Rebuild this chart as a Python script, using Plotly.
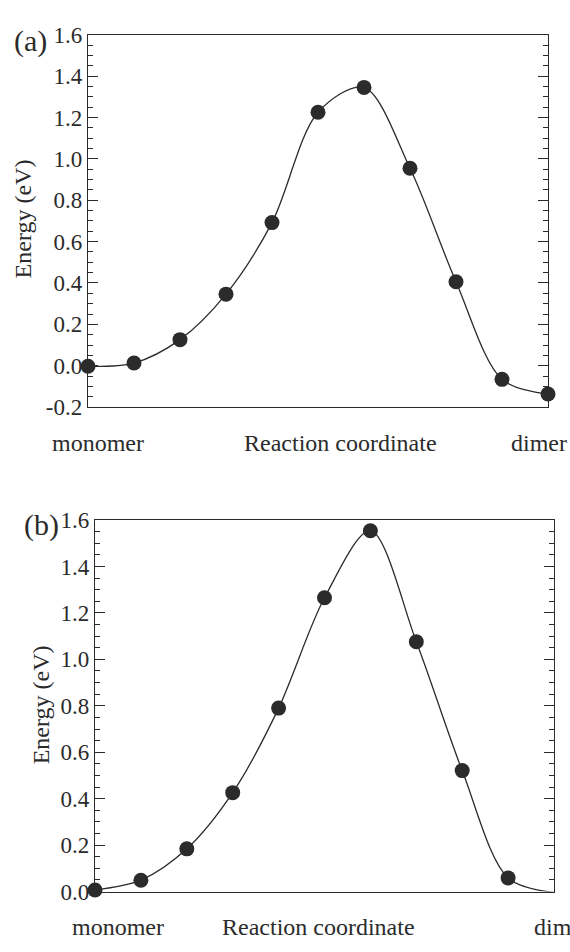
import plotly.graph_objects as go

# ---- data ----
images_a = list(range(11))
energy_a = [-0.003, 0.013, 0.126, 0.346, 0.692, 1.226, 1.346, 0.955, 0.406, -0.066, -0.137]
images_b = list(range(11))
energy_b = [0.007, 0.049, 0.184, 0.426, 0.790, 1.265, 1.554, 1.076, 0.521, 0.059, -0.003]

ticks_a = [-0.2, 0.0, 0.2, 0.4, 0.6, 0.8, 1.0, 1.2, 1.4, 1.6]
ticks_b = [0.0, 0.2, 0.4, 0.6, 0.8, 1.0, 1.2, 1.4, 1.6]
tick_text_a = ["-0.2", "0.0", "0.2", "0.4", "0.6", "0.8", "1.0", "1.2", "1.4", "1.6"]
tick_text_b = ["0.0", "0.2", "0.4", "0.6", "0.8", "1.0", "1.2", "1.4", "1.6"]

x_labels_a = ["monomer", "Reaction coordinate", "dimer"]
x_labels_b = ["monomer", "Reaction coordinate", "dim"]
y_title = "Energy (eV)"
panel_labels = ["(a)", "(b)"]

W, H = 570, 952
FONT = "Liberation Serif"
INK = "#2b2b2b"


def px(x):
    return x / W


def py(y):
    return 1 - y / H


fig = go.Figure()

for xs, ys, ax in [(images_a, energy_a, ""), (images_b, energy_b, "2")]:
    fig.add_trace(go.Scatter(
        x=xs, y=ys, xaxis="x" + ax, yaxis="y" + ax,
        mode="lines", line=dict(color=INK, width=1.3, shape="spline", smoothing=0.9),
        hoverinfo="skip", showlegend=False))
    fig.add_trace(go.Scatter(
        x=xs, y=ys, xaxis="x" + ax, yaxis="y" + ax,
        mode="markers", marker=dict(color=INK, size=15),
        cliponaxis=False, showlegend=False))

common_x = dict(range=[0, 10], showline=True, linecolor=INK, linewidth=1.3,
                mirror=True, ticks="", showticklabels=False, showgrid=False,
                zeroline=False)


def yax(rng, tv, tt, dom, anchor):
    return dict(range=rng, domain=dom, anchor=anchor, tickvals=tv, ticktext=tt,
                ticks="inside", ticklen=10, tickwidth=1.2, tickcolor=INK,
                minor=dict(dtick=0.05, tick0=0, ticklen=5, tickwidth=1.2,
                           ticks="inside", tickcolor=INK, showgrid=False),
                showline=True, linecolor=INK, linewidth=1.3, mirror="ticks",
                showgrid=False, zeroline=False,
                tickfont=dict(family=FONT, size=23, color=INK))


fig.update_layout(
    width=W, height=H, margin=dict(l=0, r=0, t=0, b=0),
    paper_bgcolor="white", plot_bgcolor="white",
    font=dict(family=FONT, color=INK),
    xaxis=dict(domain=[px(88), px(548)], anchor="y", **common_x),
    yaxis=yax([-0.2, 1.6], ticks_a, tick_text_a, [py(405.7), py(23.5)], "x"),
    xaxis2=dict(domain=[px(95), px(554)], anchor="y2", **common_x),
    yaxis2=yax([0.0, 1.6], ticks_b, tick_text_b, [py(903.3), py(521.7)], "x2"),
)

ann = []
# x labels panel (a)
for text, x in zip(x_labels_a, [98, 340, 539]):
    ann.append(dict(text=text, x=px(x), y=py(443), xanchor="center", yanchor="middle"))
# x labels panel (b)
for text, x in zip(x_labels_b[:2], [118, 318]):
    ann.append(dict(text=text, x=px(x), y=py(940), xanchor="center", yanchor="middle"))
ann.append(dict(text=x_labels_b[2], x=px(531.7), y=py(940), xanchor="left", yanchor="middle"))
# y titles
ann.append(dict(text=y_title, x=px(23), y=py(213), textangle=-90, xanchor="center", yanchor="middle"))
ann.append(dict(text=y_title, x=px(41), y=py(712), textangle=-90, xanchor="center", yanchor="middle"))
for a in ann:
    a.update(xref="paper", yref="paper", showarrow=False,
             font=dict(family=FONT, size=24, color=INK))
# panel labels
ann.append(dict(text=panel_labels[0], x=px(30), y=py(30), xref="paper", yref="paper",
                showarrow=False, xanchor="center", yanchor="middle",
                font=dict(family=FONT, size=30, color=INK)))
ann.append(dict(text=panel_labels[1], x=px(41), y=py(527), xref="paper", yref="paper",
                showarrow=False, xanchor="center", yanchor="middle",
                font=dict(family=FONT, size=30, color=INK)))
fig.update_layout(annotations=ann)

fig.write_html("out.html")
